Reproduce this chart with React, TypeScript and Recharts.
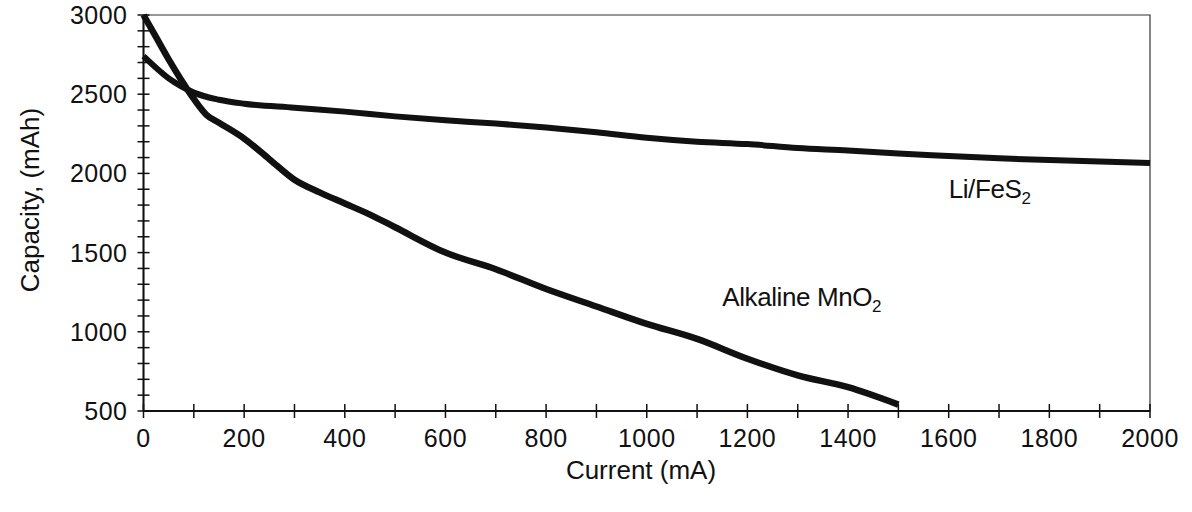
import { LineChart, Line, XAxis, YAxis, ReferenceArea, ReferenceDot } from 'recharts';

const liCurrent = [0, 50, 100, 150, 200, 300, 400, 500, 600, 700, 800, 900, 1000, 1100, 1200, 1300, 1400, 1500, 1600, 1700, 1800, 1900, 2000];
const liCapacity = [2740, 2600, 2510, 2465, 2440, 2415, 2390, 2360, 2335, 2315, 2290, 2260, 2225, 2200, 2185, 2160, 2145, 2125, 2110, 2095, 2085, 2075, 2065];

const alkCurrent = [0, 25, 50, 75, 100, 125, 150, 200, 250, 300, 350, 400, 450, 500, 600, 700, 800, 900, 1000, 1100, 1200, 1300, 1400, 1500];
const alkCapacity = [3000, 2860, 2720, 2590, 2470, 2370, 2320, 2220, 2090, 1960, 1880, 1810, 1740, 1660, 1500, 1395, 1270, 1160, 1050, 955, 830, 725, 650, 540];

const xTicks = [0, 100, 200, 300, 400, 500, 600, 700, 800, 900, 1000, 1100, 1200, 1300, 1400, 1500, 1600, 1700, 1800, 1900, 2000];
const xLabels = [0, 200, 400, 600, 800, 1000, 1200, 1400, 1600, 1800, 2000];
const yTicks = [500, 600, 700, 800, 900, 1000, 1100, 1200, 1300, 1400, 1500, 1600, 1700, 1800, 1900, 2000, 2100, 2200, 2300, 2400, 2500, 2600, 2700, 2800, 2900, 3000];
const yLabels = [500, 1000, 1500, 2000, 2500, 3000];

const liData = liCurrent.map((c, i) => ({ current: c, capacity: liCapacity[i] }));
const alkData = alkCurrent.map((c, i) => ({ current: c, capacity: alkCapacity[i] }));

const FONT = '"Liberation Sans", Arial, sans-serif';
const INK = '#111';
const PLOT_LEFT = 143.5;
const PLOT_BOTTOM = 411;

function XTick(props: any) {
  const { x, payload } = props;
  const v = payload.value;
  return (
    <g>
      <line x1={x} x2={x} y1={PLOT_BOTTOM - 7} y2={PLOT_BOTTOM + 7} stroke={INK} strokeWidth={1.5} />
      {xLabels.includes(v) && (
        <text x={x} y={PLOT_BOTTOM + 36} textAnchor="middle" fontSize={25} letterSpacing={0.5} fill={INK} fontFamily={FONT}>
          {v}
        </text>
      )}
    </g>
  );
}

function YTick(props: any) {
  const { y, payload } = props;
  const v = payload.value;
  return (
    <g>
      <line x1={PLOT_LEFT - 6} x2={PLOT_LEFT + 6} y1={y} y2={y} stroke={INK} strokeWidth={1.5} />
      {yLabels.includes(v) && (
        <text x={PLOT_LEFT - 16} y={y} textAnchor="end" dominantBaseline="central" fontSize={25} letterSpacing={0.5} fill={INK} fontFamily={FONT}>
          {v}
        </text>
      )}
    </g>
  );
}

function SeriesLabel({ cx, cy, name }: { cx?: number; cy?: number; name: string }) {
  return (
    <text x={cx} y={cy} fontSize={26} letterSpacing={-0.4} fill={INK} fontFamily={FONT}>
      {name}
      <tspan fontSize={17} dy={6}>2</tspan>
    </text>
  );
}

export default function App() {
  return (
    <div style={{ position: 'absolute', left: 0, top: 0, width: 1192, height: 512, background: '#fff' }}>
      <LineChart width={1192} height={512} margin={{ top: 15, right: 42, left: 83.5, bottom: 71 }}>
        <XAxis
          dataKey="current"
          type="number"
          domain={[0, 2000]}
          ticks={xTicks}
          interval={0}
          tick={<XTick />}
          tickLine={false}
          axisLine={{ stroke: INK, strokeWidth: 2 }}
          height={30}
          allowDuplicatedCategory={false}
          label={{
            content: () => (
              <text x={641} y={479} textAnchor="middle" fontSize={26} fill={INK} fontFamily={FONT}>
                Current (mA)
              </text>
            ),
          }}
        />
        <YAxis
          type="number"
          domain={[500, 3000]}
          ticks={yTicks}
          interval={0}
          tick={<YTick />}
          tickLine={false}
          axisLine={{ stroke: INK, strokeWidth: 2 }}
          width={60}
          label={{
            content: () => (
              <text x={30} y={200} transform="rotate(-90, 30, 200)" textAnchor="middle" dominantBaseline="central" fontSize={26} fill={INK} fontFamily={FONT}>
                Capacity, (mAh)
              </text>
            ),
          }}
        />
        <ReferenceArea x1={0} x2={2000} y1={500} y2={3000} fill="none" stroke="#333" strokeWidth={1.2} />
        <Line data={liData} dataKey="capacity" type="monotone" stroke={INK} strokeWidth={6} dot={false} isAnimationActive={false} />
        <Line data={alkData} dataKey="capacity" type="monotone" stroke={INK} strokeWidth={6.5} dot={false} isAnimationActive={false} />
        <ReferenceDot x={1600} y={1845} r={0} shape={(p: any) => <SeriesLabel cx={p.cx} cy={p.cy} name="Li/FeS" />} />
        <ReferenceDot x={1150} y={1160} r={0} shape={(p: any) => <SeriesLabel cx={p.cx} cy={p.cy} name="Alkaline MnO" />} />
      </LineChart>
    </div>
  );
}
